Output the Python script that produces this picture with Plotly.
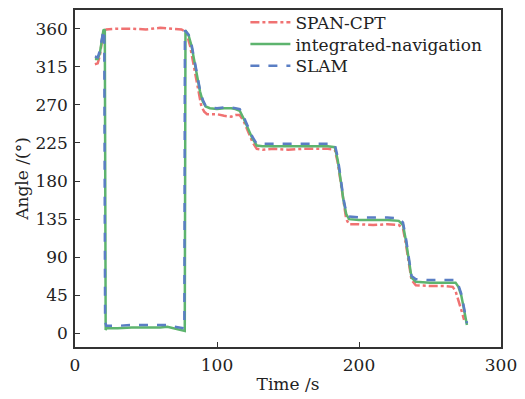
import plotly.graph_objects as go

# SPAN-CPT (reference)
span_t = [14, 16, 17.5, 19, 20, 22, 30, 40, 50, 60, 70, 75, 77, 79, 81, 83, 85, 87, 89, 91, 93, 96, 100, 105, 110, 113, 116, 119, 122, 125, 128, 132, 140, 150, 160, 170, 178, 183, 185, 187, 189, 191, 193, 200, 210, 220, 228, 231, 233, 235, 237, 240, 250, 260, 266, 268, 270, 272, 274]
span_v = [318, 319, 328, 348, 357, 359, 360, 360, 359, 361, 360, 359, 357, 352, 340, 322, 303, 283, 268, 262, 259, 259, 259, 257, 256, 258, 258, 250, 238, 226, 218, 217, 218, 217, 218, 218, 218, 217, 202, 180, 155, 135, 129, 129, 128, 129, 128, 124, 106, 82, 63, 57, 56, 56, 55, 50, 40, 28, 16]

# integrated-navigation
nav_t = [14, 16, 17.5, 19, 20, 21, 21.6, 22, 30, 40, 50, 60, 65, 70, 77.3, 77.8, 80, 82, 84, 86, 88, 90, 92, 95, 100, 105, 110, 113, 116, 119, 122, 125, 128, 132, 140, 150, 160, 170, 178, 183, 185, 187, 189, 191, 193, 200, 210, 220, 228, 231, 233, 235, 237, 240, 250, 260, 268, 270, 272, 274, 276]
nav_v = [324, 324, 331, 350, 358, 359, 4, 6, 6, 7, 7, 7, 8, 6, 3, 358, 352, 340, 322, 305, 286, 274, 268, 266, 265, 266, 266, 265, 263, 253, 241, 230, 222, 221, 221, 221, 221, 221, 221, 220, 205, 182, 158, 141, 135, 134, 134, 134, 133, 128, 110, 86, 66, 61, 60, 60, 60, 55, 45, 28, 10]

# SLAM
slam_t = [14, 16, 17.5, 19, 20, 20.6, 21.2, 22, 30, 40, 50, 60, 65, 70, 77, 77.4, 80, 82, 84, 86, 88, 90, 92, 95, 100, 105, 110, 113, 116, 119, 122, 125, 128, 132, 140, 150, 160, 170, 178, 183, 185, 187, 189, 191, 193, 200, 210, 220, 228, 231, 233, 235, 237, 240, 250, 260, 268, 270, 272, 274, 276]
slam_v = [327, 326, 334, 352, 358, 358, 14, 9, 9, 10, 10, 10, 10, 8, 6, 358, 353, 342, 325, 307, 288, 276, 269, 267, 266, 267, 267, 266, 265, 255, 243, 232, 224, 224, 224, 224, 224, 224, 224, 223, 208, 185, 160, 143, 138, 137, 137, 137, 136, 131, 113, 88, 68, 64, 63, 63, 63, 57, 47, 30, 12]

x_ticks = [0, 100, 200, 300]
y_ticks = [0, 45, 90, 135, 180, 225, 270, 315, 360]

FONT = "DejaVu Serif"

fig = go.Figure()
fig.add_trace(go.Scatter(x=span_t, y=span_v, mode="lines", name="SPAN-CPT", legend="legend",
                         line=dict(color="#F07272", width=2.5, dash="dashdot")))
fig.add_trace(go.Scatter(x=nav_t, y=nav_v, mode="lines", name="integrated-navigation", legend="legend2",
                         line=dict(color="#5DB46E", width=2.5)))
fig.add_trace(go.Scatter(x=slam_t, y=slam_v, mode="lines", name="SLAM", legend="legend3",
                         line=dict(color="#5A7EC4", width=2.5, dash="dash")))

axis_common = dict(showgrid=False, zeroline=False, showline=True, mirror=True,
                   linecolor="#333333", linewidth=1.5, ticks="inside", ticklen=5,
                   tickcolor="#333333", automargin=False,
                   tickfont=dict(family=FONT, size=17, color="#222222"))

def leg(ypix):
    return dict(x=0.40, y=(347 - ypix) / 342, xanchor="left", yanchor="middle",
                bgcolor="rgba(0,0,0,0)", borderwidth=0, itemwidth=40,
                font=dict(family=FONT, size=17, color="#222222"))

fig.update_layout(
    width=525, height=399,
    margin=dict(l=75, r=24, t=5, b=52),
    paper_bgcolor="white", plot_bgcolor="white",
    font=dict(family=FONT, size=17, color="#222222"),
    xaxis=dict(range=[0, 300], tickvals=x_ticks, ticklabelstandoff=2,
               title=dict(text="Time /s", font=dict(family=FONT, size=17), standoff=4),
               **axis_common),
    yaxis=dict(range=[-16, 382], tickvals=y_ticks, ticklabelstandoff=2,
               title=dict(text="Angle /(°)", font=dict(family=FONT, size=17), standoff=2),
               **axis_common),
    legend=leg(18), legend2=leg(40), legend3=leg(62),
    showlegend=True,
)

fig.write_html("out.html", config={"displayModeBar": False},
               post_script="document.body.style.margin='0';document.body.style.overflow='hidden';")
